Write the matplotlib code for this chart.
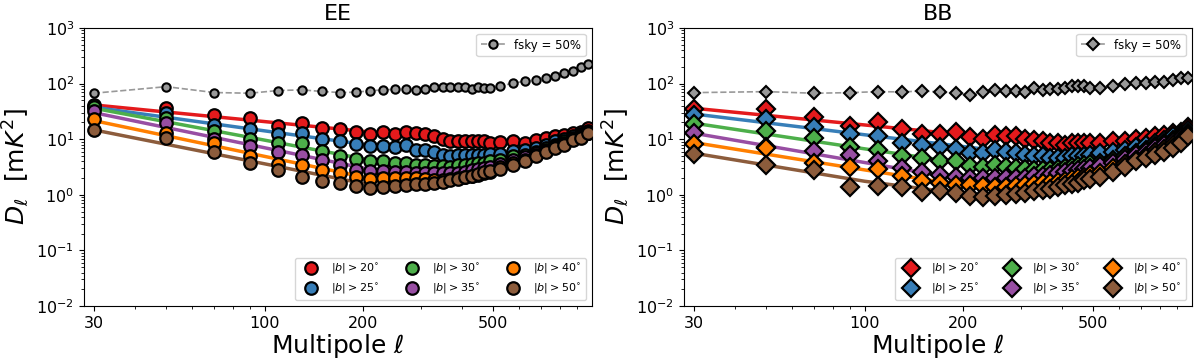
"""
EE / BB foreground spectra for several Galactic latitude cuts.
"""
import numpy as np
import matplotlib
matplotlib.use('Agg')
import matplotlib.pyplot as plt
from matplotlib.ticker import NullFormatter

# multipole bin centres
ell = [30, 50, 70, 90, 110, 130, 150, 170, 190, 210, 230, 250, 270, 290,
       310, 330, 350, 370, 390, 410, 430, 450, 470, 490,
       525, 575, 625, 675, 725, 775, 825, 875, 925, 975]

cuts = ['20', '25', '30', '35', '40', '50']
colors = ['#e41a1c', '#377eb8', '#4daf4a', '#984ea3', '#ff7f00', '#8c5c3c']

# EE spectra, one list per latitude cut
ee_b20 = [41, 36, 27.3, 23.8, 17.3, 19.4, 16.2, 15.5, 13.7, 12.3, 13.7, 12.4, 13.2, 12.8,
          12.4, 11.2, 10.0, 9.4, 9.1, 9.1, 9.4, 9.4, 9.1, 8.5,
          8.8, 9.1, 8.7, 9.7, 10.4, 11.2, 12.0, 12.8, 13.7, 15.7]
ee_b25 = [37.5, 29, 18, 15.3, 12.4, 13.1, 10.1, 9.4, 8.2, 7.4, 7.6, 7.2, 7.9, 6.4,
          6.4, 5.8, 5.2, 4.9, 5.1, 5.2, 5.2, 5.2, 5.2, 5.4,
          5.4, 6.2, 6.4, 6.9, 7.9, 9.1, 10.0, 11.2, 12.4, 14.3]
ee_b30 = [38, 23.8, 14.3, 10.1, 8.5, 8.5, 6.2, 5.0, 4.4, 4.0, 4.0, 3.7, 3.8, 3.5,
          3.5, 3.3, 3.3, 3.2, 3.5, 3.5, 3.6, 3.7, 3.8, 4.0,
          4.3, 4.9, 5.2, 6.0, 6.9, 7.9, 9.1, 10.4, 12.0, 13.7]
ee_b35 = [32, 19.4, 10.0, 7.4, 5.9, 5.1, 4.2, 3.5, 2.8, 2.7, 2.7, 2.6, 2.6, 2.5,
          2.45, 2.45, 2.45, 2.5, 2.5, 2.6, 2.8, 2.9, 3.0, 3.1,
          3.6, 4.3, 4.8, 5.6, 6.5, 7.5, 8.7, 10.0, 11.5, 13.0]
ee_b40 = [22.9, 13.1, 8.7, 5.0, 3.6, 3.5, 2.8, 2.45, 2.07, 1.9, 2.0, 2.0, 2.0, 2.0,
          1.9, 1.86, 1.86, 1.9, 2.0, 2.07, 2.2, 2.3, 2.45, 2.6,
          3.1, 3.7, 4.3, 5.2, 6.2, 7.2, 8.3, 10.0, 11.0, 13.0]
ee_b50 = [14.7, 10.4, 6.0, 3.7, 2.8, 2.1, 1.8, 1.66, 1.41, 1.32, 1.37, 1.45, 1.51, 1.55,
          1.58, 1.62, 1.69, 1.81, 1.91, 2.07, 2.19, 2.38, 2.52, 2.73,
          2.89, 3.46, 3.97, 5.0, 6.0, 6.9, 7.9, 9.7, 10.4, 12.8]
ee_fsky50 = [67, 88, 69, 67, 75, 77, 72, 69, 70, 74, 77, 79, 79, 77,
             80, 85, 85, 85, 85, 85, 81, 85, 82, 82,
             91, 101, 111, 116, 124, 139, 153, 171, 196, 222]

# BB spectra
bb_b20 = [34.5, 34.5, 25.5, 17.3, 20.7, 15.3, 12.4, 12.4, 13.7, 10.8, 10.0, 12.0, 11.2, 11.5,
          10.0, 9.7, 9.1, 8.7, 8.5, 7.9, 8.5, 8.7, 8.7, 8.5,
          8.7, 9.1, 9.4, 10.0, 10.4, 11.2, 12.0, 12.8, 13.7, 16.4]
bb_b25 = [27.3, 22.8, 16.4, 12.4, 11.2, 8.7, 7.9, 7.2, 6.6, 5.75, 5.6, 6.4, 6.0, 5.6,
          5.2, 4.9, 4.9, 4.55, 4.55, 4.55, 4.9, 4.9, 4.9, 5.2,
          5.6, 6.0, 6.4, 7.2, 7.9, 8.5, 9.7, 11.2, 12.4, 14.7]
bb_b30 = [18.8, 14.3, 10.4, 7.2, 6.4, 4.9, 4.55, 4.1, 4.0, 3.3, 3.1, 3.5, 3.1, 3.0,
          2.9, 2.8, 2.8, 2.8, 2.9, 3.0, 3.1, 3.3, 3.5, 3.6,
          3.8, 4.3, 4.9, 5.6, 6.4, 7.4, 8.5, 9.7, 11.2, 13.1]
bb_b35 = [12.8, 7.2, 6.25, 5.2, 4.1, 3.0, 2.6, 2.3, 2.07, 2.0, 2.0, 2.0, 2.0, 2.0,
          2.0, 2.2, 2.2, 2.3, 2.45, 2.55, 2.65, 2.8, 2.9, 3.05,
          3.3, 3.8, 4.4, 5.1, 5.9, 6.8, 7.9, 9.0, 10.5, 12.3]
bb_b40 = [8.2, 6.9, 3.8, 3.1, 2.9, 2.2, 1.8, 1.66, 1.53, 1.47, 1.41, 1.37, 1.4, 1.45,
          1.5, 1.55, 1.6, 1.65, 1.7, 1.8, 1.9, 2.0, 2.1, 2.25,
          2.5, 3.0, 3.6, 4.3, 5.0, 5.8, 6.7, 7.8, 9.2, 11.8]
bb_b50 = [5.4, 3.46, 2.8, 1.37, 1.45, 1.37, 1.1, 1.15, 1.07, 0.96, 0.91, 0.96, 1.0, 1.04,
          1.07, 1.15, 1.2, 1.26, 1.37, 1.51, 1.58, 1.66, 1.81, 1.91,
          2.07, 2.6, 3.2, 4.0, 4.55, 5.2, 6.0, 6.9, 8.5, 11.5]
bb_fsky50 = [68.7, 71.6, 67, 68.7, 71.6, 70.7, 73.6, 70.7, 67, 62.5, 71.6, 76.7, 74.7, 74.7,
             70.7, 82, 76.7, 78.9, 81, 82, 90.6, 90.6, 90.6, 82,
             82, 90.6, 97, 104, 104, 108, 108, 116, 124, 124]

# power-law fit lines, read at a few multipoles
fit_ell = [30, 100, 220]
ee_fit = [[41.3, 20.7, 13.1], [37.5, 14.1, 7.5], [36, 9.6, 4.0],
          [30, 7.0, 2.7], [21.6, 4.9, 1.86], [14.7, 3.6, 1.43]]
bb_fit = [[36, 18, 11.4], [28.4, 12.0, 6.9], [19.4, 6.7, 3.4],
          [12.8, 3.8, 1.7], [8.7, 2.8, 1.35], [5.6, 1.75, 0.97]]


def panel(ax, title, spectra, fits, fsky, marker, ms, gms):
    """Draw one spectrum panel."""
    for fit, c in zip(fits, colors):
        ax.plot(fit_ell, fit, '-', color=c, lw=2.5, zorder=2)
    for dl, c, cut in zip(spectra, colors, cuts):
        ax.plot(ell, dl, marker=marker, ls='none', ms=ms, mfc=c, mec='k',
                mew=1.6, zorder=3, label=r'$|b| > %s^{\circ}$' % cut)
    hg = ax.errorbar(ell, fsky, yerr=0, fmt=marker, ls='--', color='#999999',
                     ms=gms, mfc='#999999', mec='k', mew=1.5, lw=1.2,
                     zorder=3, label='fsky = 50%')
    ax.set_xscale('log')
    ax.set_yscale('log')
    ax.set_xlim(28, 1000)
    ax.set_ylim(1e-2, 1e3)
    ax.set_xticks([30, 100, 200, 500])
    ax.set_xticklabels(['30', '100', '200', '500'])
    ax.xaxis.set_minor_formatter(NullFormatter())
    ax.tick_params(labelsize=11.5)
    ax.set_title(title, fontsize=16)
    ax.set_xlabel(r'Multipole $\ell$', fontsize=18)
    ax.xaxis.set_label_coords(0.5, -0.095)
    ax.set_ylabel(r'$D_{\ell}$  [m$K^2$]', fontsize=18)
    handles, labels = ax.get_legend_handles_labels()
    lg = ax.legend([hg], ['fsky = 50%'], loc='upper right', fontsize=8.5)
    ax.add_artist(lg)
    ax.legend(handles[:6], labels[:6], loc='lower right', ncol=3, fontsize=8)


fig = plt.figure(figsize=(12, 3.63), dpi=100)
ax1 = fig.add_axes([0.07, 0.157, 0.423, 0.766])
ax2 = fig.add_axes([0.57, 0.157, 0.423, 0.766])

panel(ax1, 'EE', [ee_b20, ee_b25, ee_b30, ee_b35, ee_b40, ee_b50], ee_fit,
      ee_fsky50, 'o', 9, 6)
panel(ax2, 'BB', [bb_b20, bb_b25, bb_b30, bb_b35, bb_b40, bb_b50], bb_fit,
      bb_fsky50, 'D', 9, 6)

fig.savefig('out.png', dpi=100)
